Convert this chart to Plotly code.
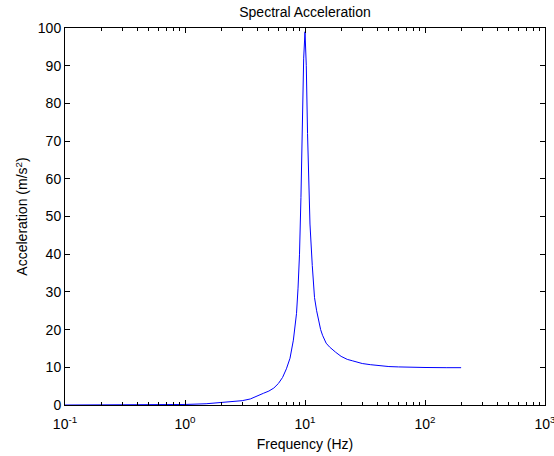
import plotly.graph_objects as go

# Data
freq_hz = [0.1, 0.5, 1.0, 1.5, 2.0, 2.5, 3.0, 3.5, 4.0, 4.5, 5.0, 5.5, 6.0, 6.5,
           7.0, 7.5, 8.0, 8.5, 8.75, 9.0, 9.25, 9.5, 9.75, 10.0, 10.25, 10.5,
           10.75, 11.0, 11.5, 12.0, 12.5, 13.0, 13.5, 14.0, 15.0, 16.0, 17.0,
           18.0, 20.0, 22.5, 25.0, 27.5, 30.0, 35.0, 40.0, 50.0, 60.0, 75.0,
           100.0, 150.0, 200.0]
accel = [0.0, 0.03, 0.14, 0.33, 0.6, 0.9, 1.15, 1.6, 2.3, 3.1, 3.7, 4.5, 5.7, 7.3,
         9.6, 12.4, 17.2, 24.3, 31.0, 40.0, 55.0, 74.0, 92.0, 99.0, 90.0, 72.0,
         57.0, 48.0, 37.0, 28.5, 25.0, 22.0, 20.0, 18.5, 16.4, 15.4, 14.6,
         14.0, 12.9, 12.1, 11.7, 11.3, 11.0, 10.7, 10.5, 10.2, 10.1, 10.0,
         9.95, 9.9, 9.9]

x_major = [0.1, 1, 10, 100, 1000]
x_major_text = ["10<sup>-1</sup>", "10<sup>0</sup>", "10<sup>1</sup>", "10<sup>2</sup>", "10<sup>3</sup>"]
x_minor = [m * d for d in [0.1, 1, 10, 100] for m in range(2, 10)]
y_ticks = list(range(0, 101, 10))

font_family = "Liberation Sans, Arial, sans-serif"

fig = go.Figure()
fig.add_trace(go.Scatter(x=freq_hz, y=accel, mode="lines",
                         line=dict(color="#0000ff", width=1), showlegend=False))

fig.update_layout(
    width=554, height=456,
    margin=dict(l=65, r=9, t=28, b=51),
    paper_bgcolor="white", plot_bgcolor="white",
    font=dict(family=font_family, size=14, color="black"),
    title=dict(text="Spectral Acceleration", x=305 / 554, xanchor="center",
               xref="container", y=1 - 12 / 456, yanchor="middle",
               yref="container", font=dict(size=14)),
)
fig.update_xaxes(
    type="log", range=[-1, 3], automargin=False,
    tickmode="array", tickvals=x_major, ticktext=x_major_text,
    ticks="inside", ticklen=5, tickcolor="black", tickwidth=1,
    ticklabelstandoff=6, ticklabeloverflow="allow",
    tickfont=dict(size=14),
    minor=dict(tickmode="array", tickvals=x_minor, ticks="inside", ticklen=3,
               tickcolor="black", tickwidth=1, showgrid=False),
    showline=True, linecolor="black", linewidth=1, mirror="ticks",
    showgrid=False, zeroline=False,
    title=dict(text="Frequency (Hz)", standoff=8, font=dict(size=14)),
)
fig.update_yaxes(
    range=[0, 100], automargin=False,
    tickmode="array", tickvals=y_ticks,
    ticks="inside", ticklen=5, tickcolor="black", tickwidth=1,
    tickfont=dict(size=14),
    showline=True, linecolor="black", linewidth=1, mirror="ticks",
    showgrid=False, zeroline=False,
    title=dict(text="Acceleration (m/s<sup>2</sup>)", standoff=6, font=dict(size=14)),
)

fig.write_html("out.html")
